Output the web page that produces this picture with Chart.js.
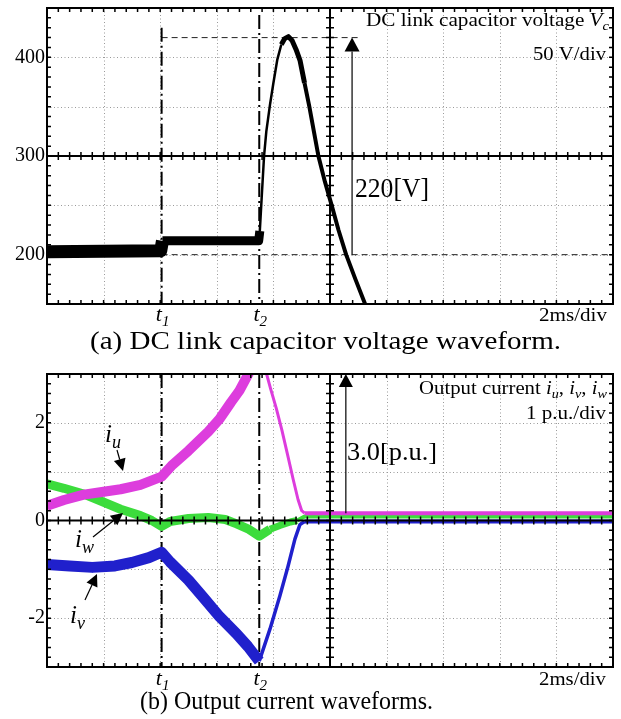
<!DOCTYPE html>
<html>
<head>
<meta charset="utf-8">
<script src="https://cdn.jsdelivr.net/npm/chart.js@4.4.0/dist/chart.umd.min.js"></script>
<style>
  body { margin: 0; background: #fff; }
  #wrap { position: relative; width: 621px; height: 719px; background: #fff; }
  canvas { position: absolute; left: 0; }
</style>
</head>
<body>
<div id="wrap">
  <canvas id="vcChart" width="621" height="360" style="top:0"></canvas>
  <canvas id="curChart" width="621" height="359" style="top:360px"></canvas>
</div>
<script>
const SERIF = '"Liberation Serif", "Times New Roman", serif';

// time axis in ms, 2 ms/div, 10 div
const T1 = 4.05, T2 = 7.5;

// (a) DC link capacitor voltage [V]
const vcTime = [0, 4.02, 4.08, 7.48, 7.52, 7.60, 7.67, 7.75, 7.88, 8.0, 8.14, 8.28, 8.4, 8.53, 8.66, 8.8, 8.94, 9.1, 9.27, 9.43, 9.59, 9.82, 10.06, 10.3, 10.57, 10.9, 11.24, 11.5];
const vcVolt = [203, 204, 214, 214, 224, 265, 300, 325, 352, 374, 398, 413, 419, 421, 417, 408, 397, 374, 350, 325, 300, 274, 250, 225, 200, 175, 150, 132];
const vcTicks = [200, 300, 400];
const vcPeak = 420, vcBase = 200;

// (b) output currents [p.u.]
const iuTime = [0, 0.6, 1.3, 2.0, 2.6, 3.3, 4.05, 4.4, 5.0, 5.7, 6.1, 6.5, 6.8, 7.07, 7.3, 7.6, 7.76, 7.9, 8.1, 8.3, 8.5, 8.7, 8.87, 9.0, 9.1, 20];
const iuVal  = [0.30, 0.42, 0.53, 0.59, 0.64, 0.73, 0.90, 1.12, 1.43, 1.82, 2.08, 2.42, 2.66, 2.95, 3.2, 3.25, 3.0, 2.7, 2.3, 1.85, 1.35, 0.84, 0.43, 0.2, 0.15, 0.15];
const ivTime = [0, 0.8, 1.6, 2.4, 3.0, 3.6, 4.05, 4.35, 5.0, 5.5, 6.1, 6.7, 7.1, 7.5, 7.88, 8.23, 8.52, 8.76, 8.94, 9.1, 20];
const ivVal  = [-0.90, -0.93, -0.96, -0.93, -0.86, -0.76, -0.65, -0.85, -1.22, -1.56, -1.97, -2.32, -2.58, -2.88, -2.22, -1.54, -0.93, -0.38, -0.08, -0.02, -0.02];
const iwTime = [0, 0.6, 1.3, 1.9, 2.6, 3.3, 3.7, 4.05, 4.35, 5.0, 5.7, 6.3, 6.7, 7.1, 7.5, 7.88, 8.23, 8.6, 8.84, 9.1, 20];
const iwVal  = [0.75, 0.66, 0.54, 0.40, 0.23, 0.10, 0.0, -0.12, -0.02, 0.04, 0.06, 0.02, -0.07, -0.17, -0.32, -0.18, -0.10, -0.03, 0.0, 0.08, 0.08];
const curTicks = [2, 0, -2];
const curPeak = 3.0, curBase = 0.15;

const pts = (xs, ys) => xs.map((x, i) => ({ x, y: ys[i] }));

// line width per time range (thick where the trace is noisy)
function widthBy(ranges) {
  return ctx => {
    const x = ctx.p0.parsed.x;
    for (const [end, w] of ranges) if (x < end) return w;
    return ranges[ranges.length - 1][1];
  };
}

function trace(label, data, color, ranges) {
  return {
    label, data,
    borderColor: color,
    borderWidth: ranges[0][1],
    borderJoinStyle: 'round',
    pointRadius: 0,
    tension: 0,
    clip: 0,
    segment: { borderWidth: widthBy(ranges) }
  };
}

function rich(ctx, parts, x, y, size, align, width) {
  const fonts = parts.map(([t, it, sub]) => `${it ? 'italic ' : ''}${sub ? Math.round(size * 0.7) : size}px ${SERIF}`);
  let total = 0;
  const ws = parts.map(([t], i) => { ctx.font = fonts[i]; const w = ctx.measureText(t).width; total += w; return w; });
  const sx = width ? width / total : 1;
  const drawn = total * sx;
  const x0 = align === 'right' ? x - drawn : align === 'center' ? x - drawn / 2 : x;
  ctx.save();
  ctx.translate(x0, y);
  ctx.scale(sx, 1);
  ctx.fillStyle = '#000';
  ctx.textAlign = 'left';
  ctx.textBaseline = 'alphabetic';
  let cx = 0;
  parts.forEach(([t, it, sub], i) => {
    ctx.font = fonts[i];
    ctx.fillText(t, cx, sub ? size * 0.22 : 0);
    cx += ws[i];
  });
  ctx.restore();
}

function arrow(ctx, x0, y0, x1, y1, head, half) {
  const a = Math.atan2(y1 - y0, x1 - x0), c = Math.cos(a), s = Math.sin(a);
  const bx = x1 - head * c, by = y1 - head * s;
  ctx.beginPath(); ctx.moveTo(x0, y0); ctx.lineTo(bx, by); ctx.stroke();
  ctx.beginPath();
  ctx.moveTo(x1, y1);
  ctx.lineTo(bx + half * s, by - half * c);
  ctx.lineTo(bx - half * s, by + half * c);
  ctx.closePath(); ctx.fill();
}

function vline(ctx, x, y0, y1, dash, w) {
  ctx.save();
  ctx.setLineDash(dash); ctx.lineWidth = w; ctx.strokeStyle = '#000';
  ctx.beginPath(); ctx.moveTo(x, y0); ctx.lineTo(x, y1); ctx.stroke();
  ctx.restore();
}

function hline(ctx, x0, x1, y, dash, w) {
  ctx.save();
  ctx.setLineDash(dash); ctx.lineWidth = w; ctx.strokeStyle = '#222';
  ctx.beginPath(); ctx.moveTo(x0, y); ctx.lineTo(x1, y); ctx.stroke();
  ctx.restore();
}

// oscilloscope graticule: dotted divisions, solid centre cross, minor ticks
const scope = {
  id: 'scope',
  beforeDatasetsDraw(chart, args, o) {
    const { ctx, chartArea: a, scales: { x, y } } = chart;
    ctx.save();
    ctx.strokeStyle = '#9a9a9a'; ctx.lineWidth = 1; ctx.setLineDash([1, 2.5]);
    for (let v = x.min + o.xStep; v < x.max - 1e-6; v += o.xStep) {
      if (Math.abs(v - o.xc) < 1e-6) continue;
      const px = Math.round(x.getPixelForValue(v)) + 0.5;
      ctx.beginPath(); ctx.moveTo(px, a.top); ctx.lineTo(px, a.bottom); ctx.stroke();
    }
    for (let v = y.min + o.yStep; v < y.max - 1e-6; v += o.yStep) {
      if (Math.abs(v - o.yc) < 1e-6) continue;
      const py = Math.round(y.getPixelForValue(v)) + 0.5;
      ctx.beginPath(); ctx.moveTo(a.left, py); ctx.lineTo(a.right, py); ctx.stroke();
    }
    ctx.restore();
    if (o.under) o.under(chart);
  },
  afterDatasetsDraw(chart, args, o) {
    const { ctx, chartArea: a, scales: { x, y } } = chart;
    const cx = x.getPixelForValue(o.xc), cy = y.getPixelForValue(o.yc);
    ctx.save();
    ctx.strokeStyle = '#000'; ctx.lineWidth = 2;
    ctx.strokeRect(a.left, a.top, a.right - a.left, a.bottom - a.top);
    ctx.beginPath();
    ctx.moveTo(a.left, cy); ctx.lineTo(a.right, cy);
    ctx.moveTo(cx, a.top); ctx.lineTo(cx, a.bottom);
    ctx.stroke();
    ctx.lineWidth = 1.5;
    ctx.beginPath();
    const t = 4;
    for (let v = x.min; v <= x.max + 1e-6; v += o.xStep / 5) {
      const px = x.getPixelForValue(v);
      ctx.moveTo(px, a.top); ctx.lineTo(px, a.top + t);
      ctx.moveTo(px, a.bottom); ctx.lineTo(px, a.bottom - t);
      ctx.moveTo(px, cy - t); ctx.lineTo(px, cy + t);
    }
    for (let v = y.min; v <= y.max + 1e-6; v += o.yStep / 5) {
      const py = y.getPixelForValue(v);
      ctx.moveTo(a.left, py); ctx.lineTo(a.left + t, py);
      ctx.moveTo(a.right, py); ctx.lineTo(a.right - t, py);
      ctx.moveTo(cx - t, py); ctx.lineTo(cx + t, py);
    }
    ctx.stroke();
    ctx.restore();
    if (o.over) o.over(chart);
  }
};

function scales(yMin, yMax, ticks, xHeight) {
  return {
    x: {
      type: 'linear', min: 0, max: 20,
      ticks: { display: false },
      grid: { display: false, drawTicks: false },
      border: { display: false },
      afterFit: s => { s.height = xHeight; s.paddingLeft = 0; s.paddingRight = 0; }
    },
    y: {
      type: 'linear', min: yMin, max: yMax,
      afterBuildTicks: s => { s.ticks = ticks.map(v => ({ value: v })); },
      ticks: { color: '#000', padding: 2, font: { family: SERIF, size: 20 } },
      grid: { display: false, drawTicks: false },
      border: { display: false },
      afterFit: s => { s.width = 47; s.paddingTop = 0; s.paddingBottom = 0; }
    }
  };
}

function tLabels(chart, base) {
  const { ctx, scales: { x } } = chart;
  rich(ctx, [['t', 1, 0], ['1', 1, 1]], x.getPixelForValue(T1) + 1, base, 22, 'center');
  rich(ctx, [['t', 1, 0], ['2', 1, 1]], x.getPixelForValue(T2) + 1, base, 22, 'center');
}

new Chart(document.getElementById('vcChart'), {
  type: 'line',
  data: {
    datasets: [trace('Vc', pts(vcTime, vcVolt), '#000', [[T1, 13], [T2 - 0.01, 9], [8.2, 2.5], [9.0, 5], [99, 4]])]
  },
  options: {
    responsive: false,
    animation: false,
    events: [],
    layout: { padding: { top: 8, right: 8, bottom: 0, left: 0 } },
    scales: scales(150, 450, vcTicks, 56),
    plugins: {
      legend: { display: false },
      tooltip: { enabled: false },
      scope: {
        xStep: 2, yStep: 50, xc: 10, yc: 300,
        under(chart) {
          const { ctx, chartArea: a, scales: { x, y } } = chart;
          const p1 = x.getPixelForValue(T1), p2 = x.getPixelForValue(T2);
          hline(ctx, p1, x.getPixelForValue(11.0), y.getPixelForValue(vcPeak), [6, 4], 1);
          hline(ctx, p1, a.right, y.getPixelForValue(vcBase), [6, 4], 1);
          vline(ctx, p1, y.getPixelForValue(430), a.bottom, [14, 4, 2, 4], 2);
          vline(ctx, p2, y.getPixelForValue(443), a.bottom, [14, 4, 2, 4], 2);
        },
        over(chart) {
          const { ctx, scales: { x, y } } = chart;
          ctx.save();
          ctx.strokeStyle = '#000'; ctx.fillStyle = '#000'; ctx.lineWidth = 1.2;
          const ax = x.getPixelForValue(10.78);
          arrow(ctx, ax, y.getPixelForValue(vcBase), ax, y.getPixelForValue(vcPeak), 14, 7.5);
          ctx.restore();
          rich(ctx, [['220[V]', 0, 0]], 355, 197, 27, 'left', 74);
          rich(ctx, [['DC link capacitor voltage ', 0, 0], ['V', 1, 0], ['c', 1, 1]], 609, 26, 19, 'right', 243);
          rich(ctx, [['50 V/div', 0, 0]], 606, 60, 19, 'right', 73);
          rich(ctx, [['2ms/div', 0, 0]], 607, 321, 19, 'right', 68);
          tLabels(chart, 321);
          rich(ctx, [['(a) DC link capacitor voltage waveform.', 0, 0]], 90, 349, 26, 'left', 471);
        }
      }
    }
  },
  plugins: [scope]
});

new Chart(document.getElementById('curChart'), {
  type: 'line',
  data: {
    datasets: [
      trace('iu', pts(iuTime, iuVal), '#dd3ddd', [[7.3, 10], [9.1, 3], [99, 4]]),
      trace('iw', pts(iwTime, iwVal), '#3cdc3c', [[T2 + 0.05, 9], [8.84, 7], [99, 4]]),
      trace('iv', pts(ivTime, ivVal), '#2020cc', [[T2, 11], [9.05, 3.5], [99, 4]])
    ]
  },
  options: {
    responsive: false,
    animation: false,
    events: [],
    layout: { padding: { top: 14, right: 8, bottom: 0, left: 0 } },
    scales: scales(-3, 3, curTicks, 52),
    plugins: {
      legend: { display: false },
      tooltip: { enabled: false },
      scope: {
        xStep: 2, yStep: 1, xc: 10, yc: 0,
        under(chart) {
          const { ctx, chartArea: a, scales: { x } } = chart;
          vline(ctx, x.getPixelForValue(T1), a.top, a.bottom, [14, 4, 2, 4], 2);
          vline(ctx, x.getPixelForValue(T2), a.top, a.bottom, [14, 4, 2, 4], 2);
        },
        over(chart) {
          const { ctx, scales: { x, y } } = chart;
          ctx.save();
          ctx.strokeStyle = '#000'; ctx.fillStyle = '#000'; ctx.lineWidth = 1.2;
          const ax = x.getPixelForValue(10.56);
          arrow(ctx, ax, y.getPixelForValue(curBase), ax, y.getPixelForValue(curPeak), 13, 7);
          arrow(ctx, 117, 90, 123, 111, 12, 6);
          arrow(ctx, 93, 177, 123, 153, 12, 6);
          arrow(ctx, 85, 240, 97, 214, 12, 6);
          ctx.restore();
          rich(ctx, [['i', 1, 0], ['u', 1, 1]], 105, 82, 25, 'left');
          rich(ctx, [['i', 1, 0], ['w', 1, 1]], 75, 187, 25, 'left');
          rich(ctx, [['i', 1, 0], ['v', 1, 1]], 70, 263, 25, 'left');
          rich(ctx, [['3.0[p.u.]', 0, 0]], 347, 100, 25, 'left', 90);
          rich(ctx, [['Output current ', 0, 0], ['i', 1, 0], ['u', 1, 1], [', ', 0, 0], ['i', 1, 0], ['v', 1, 1], [', ', 0, 0], ['i', 1, 0], ['w', 1, 1]], 607, 34, 19, 'right', 188);
          rich(ctx, [['1 p.u./div', 0, 0]], 606, 59, 19, 'right', 80);
          rich(ctx, [['2ms/div', 0, 0]], 606, 325, 19, 'right', 67);
          tLabels(chart, 325);
          rich(ctx, [['(b) Output current waveforms.', 0, 0]], 140, 349, 26, 'left', 293);
        }
      }
    }
  },
  plugins: [scope]
});
</script>
</body>
</html>
